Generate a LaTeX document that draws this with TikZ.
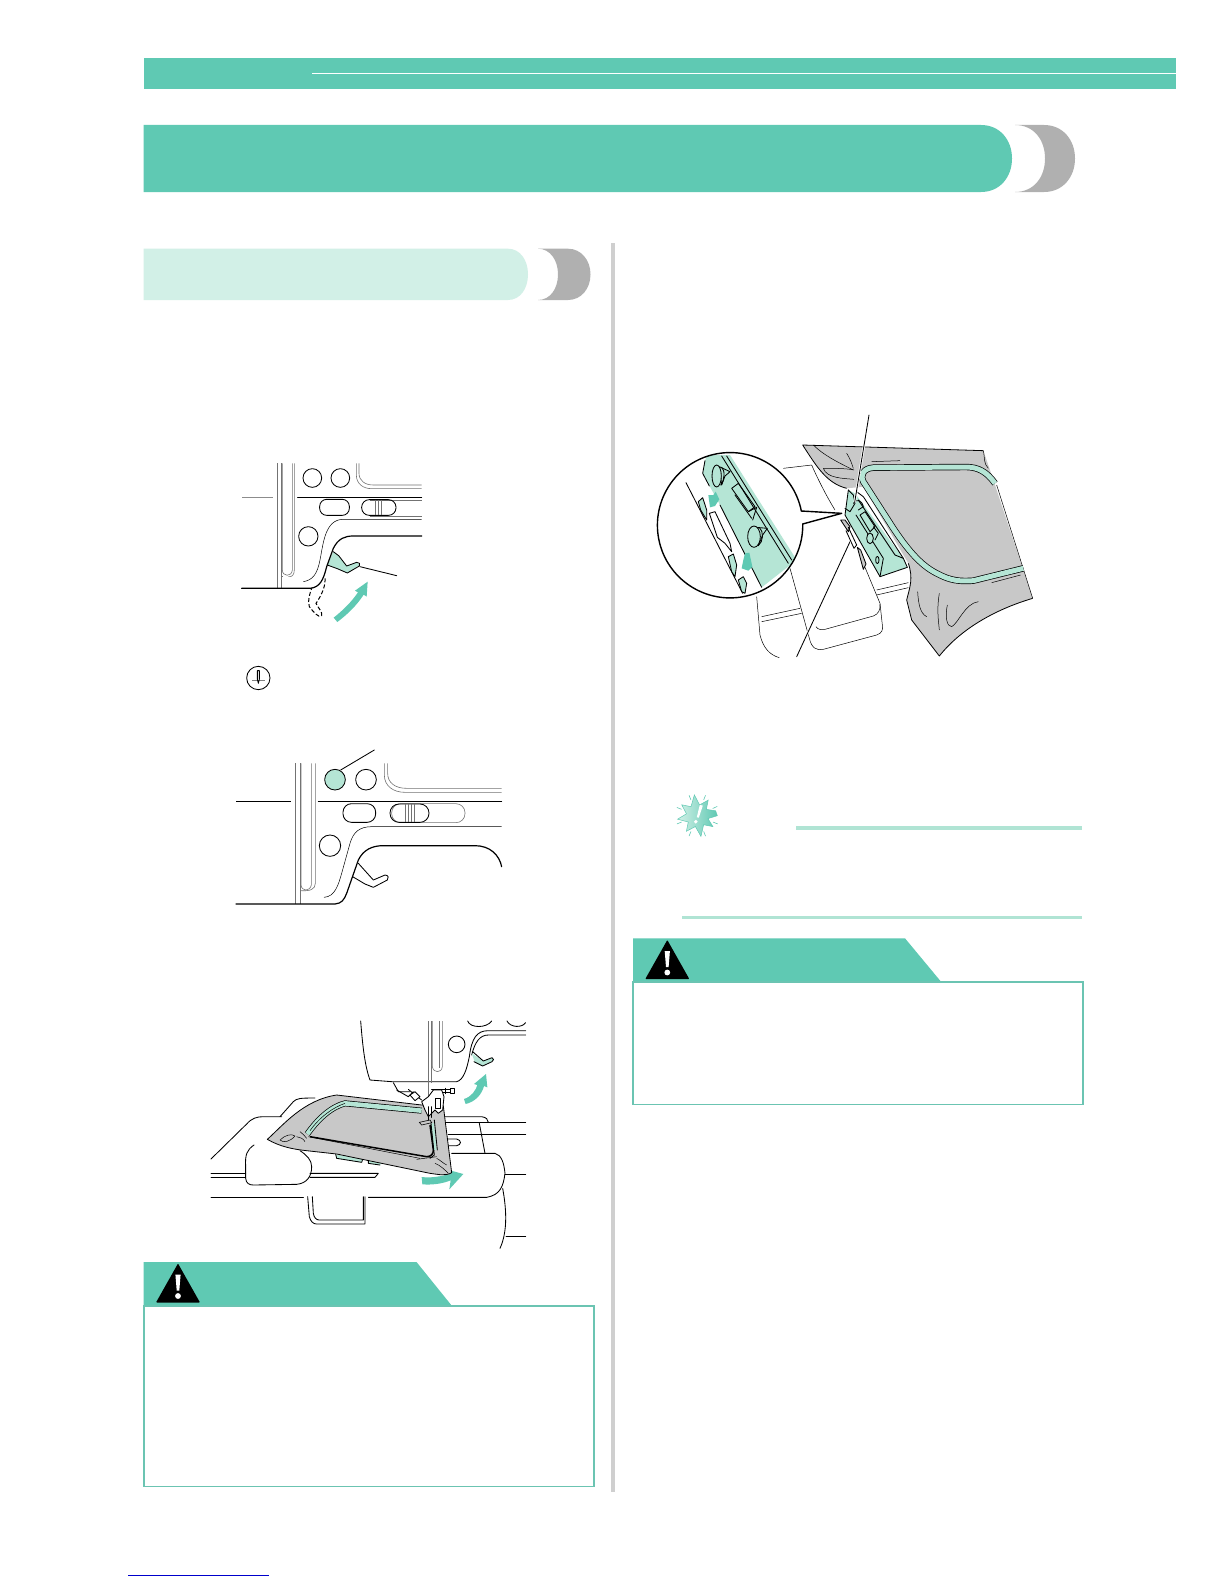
\documentclass[tikz,border=0pt]{standalone}
\usetikzlibrary{shadings}
\definecolor{tealmain}{HTML}{5FC9B3}
\definecolor{tealbox}{HTML}{6BC4B2}
\definecolor{teallight}{HTML}{D2F0E7}
\definecolor{tealpale}{HTML}{B5E5D5}
\definecolor{notebar}{HTML}{B0E4D4}
\definecolor{capgray}{HTML}{B0B0B0}
\definecolor{fabric}{HTML}{C8C8C8}
\definecolor{divgray}{HTML}{CFCFCF}
\tikzset{
  blk/.style={draw=black,line width=.85pt,line join=round,line cap=round},
  hvy/.style={draw=black,line width=1.2pt,line join=round,line cap=round},
  gl/.style={draw=black!55,line width=.6pt,line join=round},
  thn/.style={draw=black,line width=.5pt,line join=round},
  zoomed/.style={x=.33333pt,y=-.33333pt},
  notebarline/.style={draw=notebar},
  fab/.style={fill=fabric,draw=black,line width=.8pt,line join=round}
}
\newcommand{\warnicon}[3]{% apex x, apex y, half width
  \fill[black,rounded corners=.8pt] (#1,#2) -- (#1+#3,#2+39) -- (#1-#3,#2+39) -- cycle;
  \fill[white] (#1-2.6,#2+11) -- (#1+2.6,#2+11) -- (#1+1.3,#2+27) -- (#1-1.3,#2+27) -- cycle;
  \fill[white] (#1,#2+32.5) circle (2.9);
}
\begin{document}
\begin{tikzpicture}[x=1pt,y=-1pt]
\fill[white] (0,0) rectangle (1224,1584);
\useasboundingbox (0,0) rectangle (1224,1584);

% running header
\fill[tealmain] (143.5,58) rectangle (1175.5,89);
\draw[white,line width=1.2pt] (312,73.3) -- (1175.5,73.3);

% chapter title bar
\fill[tealmain] (143.5,125) -- (981,125) .. controls (1000,125) and (1012,140) .. (1012,158.5)
  .. controls (1012,177) and (1000,192) .. (981,192) -- (143.5,192) -- cycle;
\fill[capgray] (1015,125) -- (1044,125) .. controls (1063,125) and (1075,140) .. (1075,158.5)
  .. controls (1075,177) and (1063,192) .. (1044,192) -- (1015,192)
  .. controls (1034,192) and (1045,177) .. (1045,158.5) .. controls (1045,140) and (1034,125) .. (1015,125) -- cycle;

% section bar
\fill[teallight] (143.5,248.7) -- (508,248.7) .. controls (520,248.7) and (528,260) .. (528,274.3)
  .. controls (528,289) and (520,300) .. (508,300) -- (143.5,300) -- cycle;
\fill[capgray] (538,248.7) -- (568,248.7) .. controls (581,248.7) and (590.5,260) .. (590.5,274.3)
  .. controls (590.5,289) and (581,300) .. (568,300) -- (538,300)
  .. controls (550,300) and (558,289) .. (558,274.3) .. controls (558,260) and (550,248.7) .. (538,248.7) -- cycle;

% column divider
\fill[divgray] (611,243) rectangle (615,1492);

% left caution
\fill[tealmain] (143.5,1262) -- (416.5,1262) -- (452,1306) -- (143.5,1306) -- cycle;
\draw[tealbox,line width=1.8pt] (144,1306) rectangle (594,1486.5);
\warnicon{178}{1263.5}{22}

% right caution
\fill[tealmain] (633,938.3) -- (905,938.3) -- (941.5,982.3) -- (633,982.3) -- cycle;
\draw[tealbox,line width=1.8pt] (633,982.3) rectangle (1083.3,1104.5);
\warnicon{667.3}{940}{22}

% note rules
\draw[notebarline,line width=3.6pt] (796,827.7) -- (1082,827.7);
\draw[notebarline,line width=2.6pt] (682,917.3) -- (1082,917.3);

% note starburst
\begin{scope}[shift={(697.3,815.7)}]
  \shade[left color=teallight,right color=tealmain,draw=tealmain,line width=.5pt]
    (0:20) -- (15:11) -- (35:19) -- (55:11) -- (80:21) -- (100:11) -- (125:19) -- (145:11) -- (170:20)
    -- (190:11) -- (215:19) -- (235:11) -- (262:21) -- (282:11) -- (305:19) -- (325:11) -- (345:19) -- cycle;
  \fill[white] (2.5,-11) -- (5.5,-10) -- (1.5,2) -- (-.5,1.5) -- cycle;
  \fill[white] (-1.5,6) circle (1.9);
  \foreach \a in {22,68,112,158,202,248,292,335}
    \draw[tealmain,line width=.6pt] (\a:17) -- (\a:22);
\end{scope}

% page link rule
\draw[blue!80!black,line width=.7pt] (128,1575) -- (268.7,1575);

%% ---------- illustration 1
\begin{scope}[shift={(210,440)},zoomed]
  \draw[draw=black!45,line width=.8pt] (96,171) -- (190,171);
  \draw[gl] (203,70) -- (203,445);
  \draw[gl] (214,70) -- (214,445);
  \draw[gl] (214,410) -- (220,410);
  \draw[gl] (217,70) -- (217,390) .. controls (217,410) and (245,412) .. (247,390) -- (247,70);
  \draw[gl] (253,70) -- (253,390) .. controls (253,405) and (245,412) .. (235,410);
  \draw[blk] (307,114) circle (28);
  \draw[blk] (391,114) circle (28);
  \draw[blk] (295,289) circle (29);
  \draw[gl] (439,70) -- (439,105) .. controls (439,132) and (460,146) .. (485,146) -- (635,146);
  \draw[gl] (447,70) -- (447,100) .. controls (447,122) and (465,135) .. (490,135) -- (635,135);
  \draw[blk] (263,172) -- (635,172);
  \draw[blk,rounded corners=7pt] (329,178) rectangle (418,226);
  \draw[gl] (480,180) -- (635,180);
  \draw[gl] (480,228) -- (635,228);
  \draw[blk,rounded corners=7.5pt] (455,179) rectangle (558,226);
  \draw[gl] (497,179) -- (497,226);
  \draw[gl] (505,179) -- (505,226);
  \draw[gl] (513,179) -- (513,226);
  \draw[thn] (280,425) .. controls (310,420) and (322,400) .. (330,360) .. controls (340,310) and (345,238) .. (400,238) -- (635,238);
  \fill[tealpale] (370,335) -- (386,347) -- (410,378) -- (440,367) -- (450,374) -- (412,399) -- (382,386) -- (352,375) -- cycle;
  \draw[blk] (370,335) -- (386,347) -- (410,378) -- (440,367) .. controls (448,365) and (452,373) .. (448,378) -- (412,399) -- (382,386) -- (352,375);
  \draw[hvy] (95,445) -- (300,445) .. controls (330,442) and (340,420) .. (350,380) -- (370,325) .. controls (385,295) and (405,288) .. (430,288) -- (635,288);
  \draw[blk] (450,380) -- (560,407);
  \draw[draw=black,line width=1pt,dash pattern=on 4pt off 2.2pt] (345,415) .. controls (348,445) and (325,480) .. (318,490) .. controls (325,505) and (338,515) .. (335,527) .. controls (325,535) and (310,515) .. (298,500) .. controls (292,480) and (300,460) .. (305,445);
  \fill[tealmain] (371,533) .. controls (400,510) and (425,485) .. (444,457) -- (435,452) -- (473,425) -- (470,470) -- (461,464) .. controls (440,497) and (410,525) .. (382,546) -- cycle;
  % needle icon
  \draw[blk] (145,714) circle (35);
  \draw[draw=black!50,line width=.6pt] (126,722) -- (165,722);
  \draw[blk] (142,692) -- (142,718) -- (145,730) -- (148,718) -- (148,692) -- cycle;
\end{scope}

%% ---------- illustration 2
\begin{scope}[shift={(210,730)},zoomed]
  \draw[thn] (78,214) -- (243,214);
  \draw[gl] (257,100) -- (257,522);
  \draw[gl] (271,100) -- (271,522);
  \draw[gl] (273,100) -- (273,465) .. controls (275,485) and (300,485) .. (304,465) -- (304,100);
  \draw[gl] (316,100) -- (316,460) .. controls (316,478) and (300,484) .. (272,482);
  \fill[tealpale] (375,149) circle (31);
  \draw[blk] (375,149) circle (31);
  \draw[blk] (468,149) circle (31);
  \draw[blk] (360,347) circle (32);
  \draw[blk] (392,120) -- (493,60);
  \draw[gl] (523,100) -- (523,135) .. controls (523,168) and (550,187) .. (585,187) -- (875,187);
  \draw[gl] (533,100) -- (533,130) .. controls (533,158) and (555,175) .. (590,175) -- (875,175);
  \draw[blk] (325,214) -- (875,214);
  \draw[blk,rounded corners=8.5pt] (399,221) rectangle (497,277);
  \draw[gl,rounded corners=9pt] (545,221) rectangle (765,278);
  \draw[blk,rounded corners=9pt] (540,222) rectangle (657,277);
  \draw[gl] (585,222) -- (585,277);
  \draw[gl] (595,222) -- (595,277);
  \draw[gl] (605,222) -- (605,277);
  \draw[gl] (612,222) -- (612,277);
  \draw[thn] (342,502) .. controls (375,500) and (385,465) .. (395,430) -- (420,340) .. controls (430,305) and (450,290) .. (485,290) -- (875,290);
  \draw[hvy] (78,522) -- (375,522) .. controls (395,520) and (402,510) .. (410,490) -- (445,390) .. controls (460,360) and (485,347) .. (520,347) -- (795,347) .. controls (840,347) and (868,375) .. (875,410);
  \draw[blk] (445,400) -- (490,450) -- (525,435) .. controls (535,435) and (538,445) .. (532,450) -- (490,472) -- (465,462) -- (428,440);
\end{scope}

%% ---------- illustration 3
\begin{scope}[shift={(200,1000)},zoomed]
  % table
  \draw[blk] (33,477) -- (140,372) .. controls (155,355) and (170,350) .. (190,350) -- (245,350);
  \draw[blk] (240,350) -- (280,305) .. controls (290,295) and (300,294) .. (345,294);
  \draw[blk] (162,435) .. controls (140,450) and (135,465) .. (137,500) -- (137,535) .. controls (138,550) and (148,555) .. (160,555) -- (290,553) .. controls (320,550) and (335,530) .. (335,500) .. controls (335,480) and (320,465) .. (300,452);
  \draw[blk] (33,520) -- (137,520);
  \draw[blk] (33,532) -- (137,532);
  \draw[blk] (330,520) -- (535,520) -- (525,532) -- (330,532);
  \draw[blk] (33,592) -- (310,592);
  \draw[blk] (505,592) -- (860,592) .. controls (900,585) and (910,560) .. (915,520) .. controls (912,490) and (905,465) .. (885,460) -- (755,460);
  \draw[blk] (908,565) .. controls (918,620) and (925,690) .. (900,745);
  \draw[blk] (918,708) -- (977,708);
  \draw[blk] (915,522) -- (977,522);
  \draw[blk] (735,350) -- (845,350) .. controls (858,352) and (865,358) .. (865,367);
  \draw[blk] (735,367) -- (977,367);
  \draw[blk] (745,403) -- (977,403);
  \draw[blk] (745,417) -- (770,417) .. controls (785,420) and (785,435) .. (770,437) -- (745,437);
  \draw[blk] (838,370) -- (855,460);
  \draw[blk] (323,590) -- (328,650) .. controls (332,665) and (340,672) .. (350,672) -- (495,672) -- (495,590);
  \draw[blk] (337,590) -- (340,640) .. controls (342,652) and (348,660) .. (358,660) -- (490,660) -- (490,590);
  % machine head
  \draw[blk] (482,63) .. controls (488,140) and (495,200) .. (510,240) -- (575,245) -- (770,245) .. controls (790,240) and (800,210) .. (808,170) .. controls (815,115) and (830,92) .. (865,92) -- (977,92);
  \draw[blk] (815,165) .. controls (825,125) and (840,105) .. (865,105) -- (977,105);
  \draw[gl] (685,63) -- (685,295);
  \draw[gl] (695,63) -- (695,248);
  \draw[gl] (697,63) -- (697,200) .. controls (700,220) and (725,220) .. (727,200) -- (727,63);
  \draw[gl] (717,63) -- (717,205);
  \draw[blk] (770,133) circle (25);
  \draw[blk] (803,63) .. controls (810,85) and (860,85) .. (875,63);
  \draw[blk] (921,63) .. controls (930,82) and (965,85) .. (977,68);
  % lever
  \fill[tealpale] (815,160) -- (850,183) -- (878,173) -- (880,182) -- (848,198) -- (825,188) -- cycle;
  \draw[blk] (818,155) -- (850,183) -- (876,173) .. controls (882,175) and (882,182) .. (876,185) -- (848,198) -- (822,185);
  % arrows
  \fill[tealmain] (792,297) .. controls (815,290) and (828,270) .. (832,255) -- (822,252) -- (858,222) -- (862,262) -- (852,258) .. controls (845,285) and (825,305) .. (797,312) -- cycle;
  \fill[tealmain] (665,531) .. controls (695,535) and (725,528) .. (752,522) -- (746,510) -- (790,522) -- (748,568) -- (752,541) .. controls (725,552) and (695,555) .. (667,553) -- cycle;
  % presser foot mechanism
  \draw[blk] (580,248) -- (595,275) -- (630,275);
  \draw[blk] (590,270) -- (625,290) -- (640,275);
  \draw[blk] (625,268) -- (645,285) -- (665,300);
  \draw[blk,fill=white] (630,285) -- (645,275) -- (660,290) -- (645,302) -- cycle;
  \draw[blk] (695,268) -- (750,268);
  \draw[blk] (695,278) -- (750,278);
  \draw[blk,fill=white] (750,265) rectangle (763,281);
  \draw[blk] (735,265) -- (735,281);
  % frame pieces under fabric
  \fill[tealpale] (407,463) -- (488,478) -- (485,487) -- (410,475) -- cycle;
  \draw[blk] (407,463) -- (410,475) -- (485,487) -- (488,478);
  \fill[tealpale] (505,478) -- (545,488) -- (540,495) -- (505,490) -- cycle;
  \draw[blk] (505,478) -- (505,490) -- (540,495);
  % fabric
  \draw[fab] (202,418) .. controls (250,375) and (310,300) .. (410,285) -- (665,315) -- (730,318) -- (755,518) .. controls (735,530) and (710,522) .. (690,520) -- (410,462) -- (320,452) .. controls (280,448) and (240,440) .. (202,418) -- cycle;
  % hoop
  \draw[draw=black,line width=6pt,line join=round] (322,402) .. controls (355,355) and (395,320) .. (435,310) -- (665,332);
  \draw[draw=tealpale,line width=4.6pt,line join=round] (322,402) .. controls (355,355) and (395,320) .. (435,310) -- (665,332);
  \draw[draw=black,line width=.5pt] (330,392) .. controls (360,350) and (400,322) .. (435,310);
  \draw[draw=black,line width=1.5pt] (330,410) -- (680,470) .. controls (695,470) and (700,460) .. (700,450) -- (690,375);
  \draw[draw=tealpale,line width=2.5pt] (698,370) -- (706,450);
  \draw[blk] (693,370) -- (703,465) -- (690,475);
  \draw[blk] (703,360) -- (712,450);
  \draw[thn] (325,410) -- (660,475);
  \draw[thn] (650,478) -- (710,470);
  % fabric creases
  \draw[thn] (240,420) .. controls (255,405) and (275,400) .. (285,408) .. controls (270,425) and (250,430) .. (240,420);
  \draw[thn] (300,395) .. controls (310,400) and (312,408) .. (320,415);
  \draw[thn] (290,410) .. controls (300,412) and (310,415) .. (315,425);
  \draw[thn] (705,490) .. controls (720,495) and (735,510) .. (745,520);
  \draw[thn] (710,475) .. controls (720,480) and (730,490) .. (740,495);
  % foot over fabric
  \draw[blk,fill=white] (665,305) -- (685,290) -- (700,270) -- (725,270) -- (732,290) -- (728,330) -- (715,340) -- (705,330) -- (685,350) -- (675,330) -- cycle;
  \draw[blk] (705,295) -- (720,295) -- (720,325) -- (705,325) -- cycle;
  \draw[blk] (685,320) -- (685,365);
  \draw[blk] (695,320) -- (695,352);
  \fill[fabric,draw=black,line width=.6pt] (658,367) -- (690,360) -- (695,368) -- (665,375) -- cycle;
\end{scope}

%% ---------- illustration 4
\begin{scope}[shift={(650,400)},zoomed]
  % table
  \draw[thn] (400,205) -- (485,195) .. controls (500,230) and (530,290) .. (555,330);
  \draw[thn] (320,590) -- (330,705) .. controls (340,745) and (360,765) .. (388,773);
  \draw[thn] (335,650) -- (450,625);
  \draw[thn] (335,665) -- (455,640);
  \draw[thn] (420,505) -- (478,715) .. controls (485,745) and (500,752) .. (520,748) -- (680,705) .. controls (695,700) and (700,690) .. (697,675) -- (690,610) -- (640,490);
  \draw[thn] (498,680) .. controls (505,690) and (515,690) .. (525,688) -- (670,648) .. controls (685,642) and (692,630) .. (690,612);
  \draw[thn] (680,570) -- (775,548);
  \draw[thn] (680,585) -- (775,563);
  % fabric behind hoop
  \path[fill=fabric] (458,135) -- (1000,152) -- (1030,240) -- (1148,595) .. controls (1030,630) and (930,690) .. (868,768) -- (785,660) -- (770,600) .. controls (780,560) and (790,530) .. (775,490) -- (640,260) -- (590,265) .. controls (530,250) and (500,200) .. (458,135) -- cycle;
  \draw[thn,line width=.8pt] (590,265) .. controls (530,250) and (500,200) .. (458,135) -- (1000,152);
  \draw[thn] (1000,152) .. controls (1005,175) and (1000,190) .. (1015,205);
  \draw[thn] (1040,255) -- (1148,595);
  \draw[thn,line width=.8pt] (1148,595) .. controls (1030,630) and (930,690) .. (868,768) -- (785,660) -- (770,600) .. controls (780,560) and (790,535) .. (775,490);
  % creases
  \draw[thn] (490,135) .. controls (520,165) and (560,185) .. (610,210);
  \draw[thn] (590,160) .. controls (600,175) and (605,190) .. (610,205);
  \draw[thn] (520,205) .. controls (550,205) and (590,205) .. (612,210);
  \draw[thn] (520,205) .. controls (530,235) and (580,235) .. (612,238);
  \draw[thn] (665,185) -- (750,182);
  \draw[thn] (1025,548) -- (1112,525);
  \draw[thn] (803,575) .. controls (805,610) and (810,640) .. (830,650);
  \draw[thn] (868,580) .. controls (860,625) and (865,660) .. (868,690);
  \draw[thn] (892,615) .. controls (885,650) and (890,680) .. (905,680) .. controls (925,670) and (945,610) .. (985,605);
  % hoop
  \draw[draw=black,line width=6.4pt,line join=round] (1035,250) .. controls (1010,215) and (985,202) .. (950,201) -- (670,203) .. controls (640,205) and (630,225) .. (640,245) -- (730,385) .. controls (770,445) and (810,495) .. (860,520) .. controls (900,542) and (930,545) .. (970,542) -- (1120,505);
  \draw[draw=tealpale,line width=5pt,line join=round] (1035,250) .. controls (1010,215) and (985,202) .. (950,201) -- (670,203) .. controls (640,205) and (630,225) .. (640,245) -- (730,385) .. controls (770,445) and (810,495) .. (860,520) .. controls (900,542) and (930,545) .. (970,542) -- (1120,505);
\end{scope}

% bracket, in its own crop coordinates
\begin{scope}[shift={(820,470)},zoomed]
  \fill[tealpale] (85,60) -- (105,70) -- (250,265) -- (262,292) -- (180,320) -- (75,135) -- cycle;
  \draw[blk] (85,60) -- (75,135) -- (180,320) -- (262,292);
  \draw[blk] (85,60) -- (100,75) -- (105,100) -- (90,125) -- (75,115);
  \draw[blk] (110,65) -- (130,80) -- (250,265) -- (262,292);
  \draw[blk] (115,90) -- (225,255) -- (250,265);
  \draw[blk] (180,320) -- (190,265) -- (108,135);
  \draw[blk] (120,135) -- (135,125) -- (165,170) -- (150,185) -- cycle;
  \draw[blk] (160,170) -- (175,190) -- (165,210);
  \draw[blk,fill=tealpale] (150,205) ellipse (10 and 16);
  \draw[blk,fill=tealpale] (172,270) ellipse (5 and 11);
  \draw[blk] (100,100) .. controls (110,85) and (125,90) .. (130,110) -- (115,120);
  % clips under the pointer
  \draw[blk,fill=fabric] (62,150) -- (75,150) -- (90,170) -- (85,185) -- cycle;
  \draw[blk] (85,172) -- (110,225) -- (102,235) -- (78,182);
  \draw[blk,fill=fabric] (112,232) -- (122,240) -- (138,282) -- (130,298) -- cycle;
  % leaders
  \draw[draw=white,line width=2.4pt] (147,-165) -- (104,97);
  \draw[blk] (147,-165) -- (104,97);
  \draw[draw=white,line width=2.4pt] (90,215) -- (-70,560);
  \draw[blk] (90,215) -- (-70,560);
\end{scope}

% magnifier, in its own crop coordinates
\begin{scope}[shift={(680,450)},zoomed]
  \fill[white] (150,226) circle (218);
  \begin{scope}
    \clip (150,226) circle (218);
    \fill[tealpale] (75,32) -- (68,70) -- (120,165) -- (245,412) -- (350,330) -- (150,15) -- (82,15) -- cycle;
    \draw[blk] (75,32) -- (68,70) -- (88,108);
    \draw[blk] (18,98) -- (188,430);
    \draw[blk] (120,165) -- (245,412);
    \draw[blk] (125,18) -- (325,340);
    \draw[blk] (140,18) -- (335,330);
    % slot
    \draw[blk] (155,115) -- (175,100) -- (225,170) -- (205,185) -- cycle;
    \draw[blk] (165,135) -- (215,205);
    \draw[blk] (205,185) -- (230,172) -- (218,210);
    % lower cut-out
    \draw[blk,fill=white] (88,190) -- (105,185) -- (150,280) -- (155,305) -- (135,280) -- (112,262) -- cycle;
    % tabs
    \draw[blk,fill=tealpale] (55,155) -- (68,143) -- (80,180) -- (80,210) -- (62,180) -- cycle;
    \draw[blk,fill=tealpale] (145,320) -- (160,312) -- (170,345) -- (165,380) -- (155,365) -- cycle;
    \draw[blk,fill=tealpale] (175,390) -- (190,380) -- (200,400) -- (195,430) -- (185,425) -- cycle;
    % pegs
    \draw[blk,fill=tealpale] (118,50) -- (150,65) -- (135,78) -- (125,105) -- cycle;
    \draw[blk,fill=tealpale] (110,78) ellipse (14 and 33);
    \draw[blk] (125,52) .. controls (135,60) and (135,90) .. (122,105);
    \draw[blk,fill=tealpale] (228,232) -- (262,235) -- (248,255) -- (235,287) -- cycle;
    \draw[blk,fill=tealpale] (222,260) ellipse (19 and 32);
    \draw[blk] (238,232) .. controls (252,245) and (250,275) .. (235,287);
    % arrows
    \fill[tealmain] (85,135) -- (100,135) -- (107,125) -- (118,148) -- (105,168) -- (90,172) -- cycle;
    \fill[tealmain] (195,310) -- (208,308) -- (217,350) -- (205,362) -- (185,355) -- (190,330) -- cycle;
  \end{scope}
  % outline with pointer
  \fill[white] (364,183) -- (485,190) -- (368,222) -- cycle;
  \draw[hvy,line width=1.4pt] (364,183) arc[start angle=-11.3,end angle=-361,radius=218];
  \draw[hvy,line width=1.4pt] (364,183) -- (485,190) -- (368,222);
\end{scope}

\end{tikzpicture}
\end{document}
